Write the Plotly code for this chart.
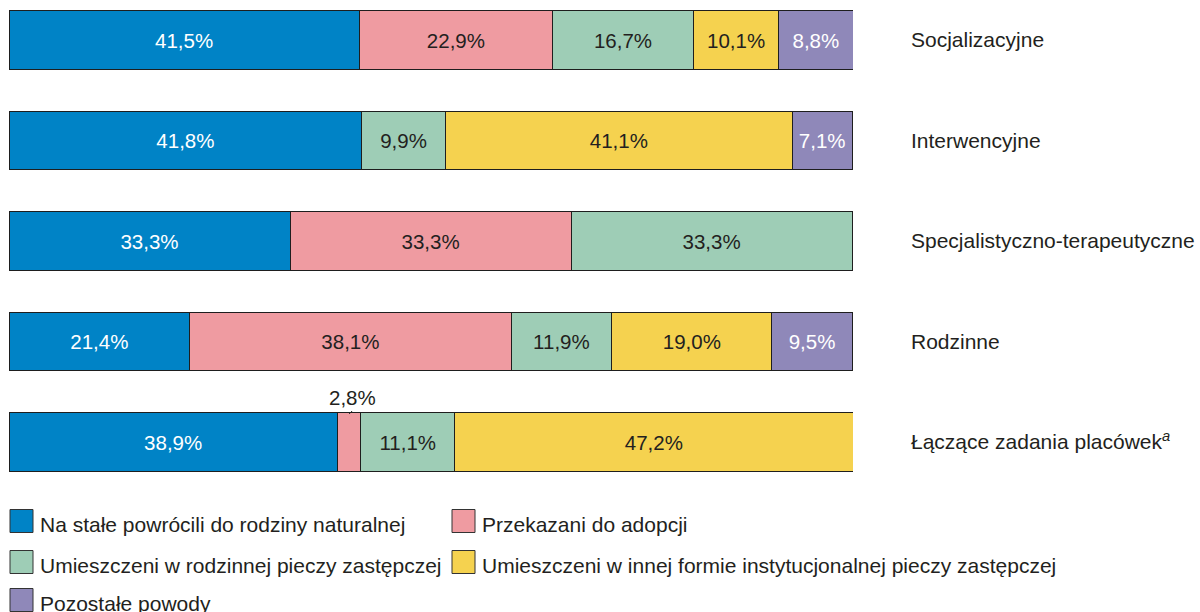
import plotly.graph_objects as go

categories = ["Socjalizacyjne", "Interwencyjne", "Specjalistyczno-terapeutyczne",
              "Rodzinne", "Łączące zadania placówek"]
category_labels = ["Socjalizacyjne", "Interwencyjne", "Specjalistyczno-terapeutyczne",
                   "Rodzinne", "Łączące zadania placówek<sup><i>a</i></sup>"]

series_names = [
    "Na stałe powrócili do rodziny naturalnej",
    "Przekazani do adopcji",
    "Umieszczeni w rodzinnej pieczy zastępczej",
    "Umieszczeni w innej formie instytucjonalnej pieczy zastępczej",
    "Pozostałe powody",
]
powrocili = [41.5, 41.8, 33.3, 21.4, 38.9]
adopcja = [22.9, None, 33.3, 38.1, 2.8]
rodzinna = [16.7, 9.9, 33.3, 11.9, 11.1]
instytucjonalna = [10.1, 41.1, None, 19.0, 47.2]
pozostale = [8.8, 7.1, None, 9.5, None]
series_values = [powrocili, adopcja, rodzinna, instytucjonalna, pozostale]

colors = ["#0083C6", "#EF9BA1", "#9ECDB6", "#F5D24F", "#8F88B9"]
text_colors = ["white", "#231F20", "#231F20", "#231F20", "white"]

FONT = "Liberation Sans, Arial, sans-serif"
DARK = "#231F20"
BAR_FS = 20.5
CAT_FS = 21
LEG_FS = 21

# labels too small to fit inside their segment are drawn outside with a leader
SMALL = 5.0

fig = go.Figure()
for name, vals, col, tcol in zip(series_names, series_values, colors, text_colors):
    texts = []
    for v in vals:
        if v is None or v < SMALL:
            texts.append("")
        else:
            texts.append(f"{v:.1f}%".replace(".", ","))
    fig.add_trace(go.Bar(
        y=categories, x=vals, orientation="h", name=name,
        marker=dict(color=col, line=dict(color="#1E1E1E", width=1)),
        width=0.58,
        text=texts, textposition="inside", insidetextanchor="middle",
        textangle=0, constraintext="none",
        textfont=dict(family=FONT, size=BAR_FS, color=tcol),
        showlegend=False, hoverinfo="skip",
    ))

# outside labels for tiny segments
for si, vals in enumerate(series_values):
    for ci, v in enumerate(vals):
        if v is not None and v < SMALL:
            start = sum((series_values[k][ci] or 0) for k in range(si))
            fig.add_annotation(
                x=start + v / 2, y=categories[ci], yshift=28,
                text=f"{v:.1f}%".replace(".", ","),
                showarrow=True, arrowhead=0, arrowwidth=1, arrowcolor=DARK,
                ax=3, ay=-3, xanchor="center", yanchor="bottom",
                font=dict(family=FONT, size=BAR_FS, color=DARK),
            )

# legend drawn manually (plot area: x 9..853 px, y 0..500 px)
L, W, H = 9, 844, 500
def px_x(p):
    return (p - L) / W
def px_y(p):
    return (H - p) / H

legend_pos = [(10, 521), (452, 521), (10, 562), (452, 562), (10, 600)]
for (lx, ly), name, col in zip(legend_pos, series_names, colors):
    fig.add_shape(type="rect", xref="paper", yref="paper",
                  x0=px_x(lx), x1=px_x(lx + 23), y0=px_y(ly + 11.5), y1=px_y(ly - 11.5),
                  fillcolor=col, line=dict(color="#333333", width=1))
    fig.add_annotation(xref="paper", yref="paper", x=px_x(lx + 28), y=px_y(ly + 3),
                       text=name, showarrow=False, xanchor="left", yanchor="middle",
                       font=dict(family=FONT, size=LEG_FS, color=DARK))

fig.update_layout(
    barmode="stack",
    width=1200, height=612,
    margin=dict(l=9, r=347, t=0, b=112),
    paper_bgcolor="white", plot_bgcolor="white",
    font=dict(family=FONT, size=CAT_FS, color=DARK),
    xaxis=dict(range=[0, 100], visible=False, fixedrange=True),
    yaxis=dict(
        type="category", categoryorder="array", categoryarray=categories,
        range=[4.577, -0.398], side="right",
        tickmode="array", tickvals=categories, ticktext=category_labels,
        showgrid=False, zeroline=False, showline=False, ticks="",
        ticklabelstandoff=57, fixedrange=True,
        tickfont=dict(family=FONT, size=CAT_FS, color=DARK),
    ),
    showlegend=False,
)

fig.write_html("out.html", config={"displayModeBar": False},
               post_script="document.body.style.margin='0';document.body.style.overflow='hidden';")
